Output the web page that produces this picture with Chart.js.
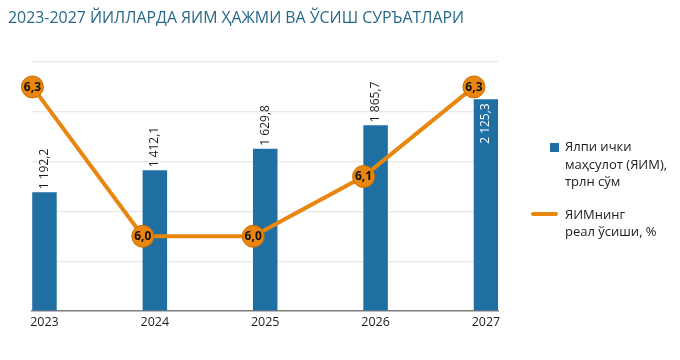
<!DOCTYPE html>
<html><head><meta charset="utf-8">
<script src="https://cdn.jsdelivr.net/npm/chart.js@4.4.0/dist/chart.umd.min.js"></script>
<style>
html,body{margin:0;padding:0;background:#fff;}
#wrap{position:relative;width:680px;height:360px;overflow:hidden;}
canvas{position:absolute;left:0;top:0;}
#title{position:absolute;left:8px;top:6px;font:15.9px "Open Sans";color:#2a6889;white-space:nowrap;}
#legend{position:absolute;left:531px;top:138px;font:13px "Open Sans";color:#1c1c1c;line-height:17.5px;}
.item{position:relative;padding-left:34px;margin-bottom:15px;}
.mk{position:absolute;}
</style></head>
<body><div id="wrap"><canvas id="c" width="680" height="360"></canvas><div id="title"></div><div id="legend"></div></div>
<script>
const titleText = '2023-2027 ЙИЛЛАРДА ЯИМ ҲАЖМИ ВА ЎСИШ СУРЪАТЛАРИ';
const years = ['2023', '2024', '2025', '2026', '2027'];
const gdp = [1192.2, 1412.1, 1629.8, 1865.7, 2125.3];
const growth = [6.3, 6.0, 6.0, 6.12, 6.3];
const gdpLabel = ['Ялпи ички', 'маҳсулот (ЯИМ),', 'трлн сўм'];
const growthLabel = ['ЯИМнинг', 'реал ўсиши, %'];

const BLUE = '#1f6fa3', ORANGE = '#e8860f';
const xMin = 2022.887, xMax = 2027.109, lineShift = 0.109;

document.getElementById('title').textContent = titleText;

function fmtGdp(v) {
  const [i, d] = v.toFixed(1).split('.');
  return i.replace(/\B(?=(\d{3})+(?!\d))/g, ' ') + ',' + d;
}
function fmtGrowth(v) { return v.toFixed(1).replace('.', ','); }

const labelPlugin = {
  id: 'labels',
  afterDatasetsDraw(chart) {
    const ctx = chart.ctx, area = chart.chartArea;
    chart.data.datasets.forEach((ds, di) => {
      const meta = chart.getDatasetMeta(di);
      meta.data.forEach((el, i) => {
        const v = ds.data[i];
        ctx.save();
        if (ds.type === 'bar') {
          const t = fmtGdp(v);
          ctx.font = '12px "Open Sans"';
          const w = ctx.measureText(t).width;
          ctx.translate(el.x, el.y);
          ctx.rotate(-Math.PI / 2);
          ctx.textBaseline = 'middle';
          if (el.y - w - 3 < area.top) {
            ctx.fillStyle = '#ffffff';
            ctx.textAlign = 'right';
            ctx.fillText(t, -4, 0);
          } else {
            ctx.fillStyle = '#1c1c1c';
            ctx.textAlign = 'left';
            ctx.fillText(t, 3, 0);
          }
        } else {
          ctx.font = 'bold 12px "Open Sans"';
          ctx.fillStyle = '#111';
          ctx.textAlign = 'center';
          ctx.textBaseline = 'middle';
          ctx.fillText(fmtGrowth(v), el.x, el.y + 0.5);
        }
        ctx.restore();
      });
    });
  }
};

const chart = new Chart(document.getElementById('c'), {
  data: {
    labels: years,
    datasets: [
      { type: 'line', label: growthLabel, data: growth, xAxisID: 'x2', yAxisID: 'y2',
        borderColor: ORANGE, borderWidth: 4, pointRadius: 11, pointBackgroundColor: ORANGE,
        pointBorderColor: '#c86f05', pointBorderWidth: 1, clip: false, order: 0, tension: 0 },
      { type: 'bar', label: gdpLabel, data: gdp, xAxisID: 'x', yAxisID: 'y',
        backgroundColor: BLUE, grouped: false, categoryPercentage: 1, barPercentage: 0.3,
        maxBarThickness: 24.5, order: 1 }
    ]
  },
  options: {
    responsive: false, animation: false, devicePixelRatio: 1,
    layout: { padding: { left: 32, right: 182, top: 62, bottom: 27 } },
    plugins: { legend: { display: false }, tooltip: { enabled: false }, title: { display: false } },
    scales: {
      x: { type: 'linear', position: 'bottom', min: xMin, max: xMax, offset: false,
        grid: { display: false, drawTicks: false, offset: false },
        border: { display: true, color: '#808080', width: 1.5 },
        ticks: { padding: 4, font: { family: 'Open Sans', size: 12.5 }, color: '#1c1c1c', callback: v => String(v), maxRotation: 0 },
        afterBuildTicks: s => { s.ticks = years.map(v => ({ value: +v })); },
        afterFit: s => { s.height = 22; } },
      x2: { type: 'linear', display: false, offset: false, min: xMin + lineShift, max: xMax + lineShift },
      y: { min: 0, max: 2500, position: 'left',
        ticks: { display: false, stepSize: 500 },
        grid: { color: '#e8e8e8', drawTicks: false, lineWidth: 1.2 },
        border: { display: false },
        afterFit: s => { s.width = 0; } },
      y2: { display: false, min: 5.85, max: 6.35 }
    }
  },
  plugins: [labelPlugin]
});

// HTML legend built from the datasets
const legend = document.getElementById('legend');
[chart.data.datasets[1], chart.data.datasets[0]].forEach(ds => {
  const item = document.createElement('div');
  item.className = 'item';
  const mk = document.createElement('span');
  mk.className = 'mk';
  if (ds.type === 'bar') {
    Object.assign(mk.style, { left: '19px', top: '5px', width: '9px', height: '9px', background: ds.backgroundColor });
  } else {
    Object.assign(mk.style, { left: '0px', top: '6px', width: '27px', height: '4px', borderRadius: '2px', background: ds.borderColor });
  }
  item.appendChild(mk);
  ds.label.forEach(line => {
    const d = document.createElement('div');
    d.textContent = line;
    item.appendChild(d);
  });
  legend.appendChild(item);
});
</script>
</body></html>
